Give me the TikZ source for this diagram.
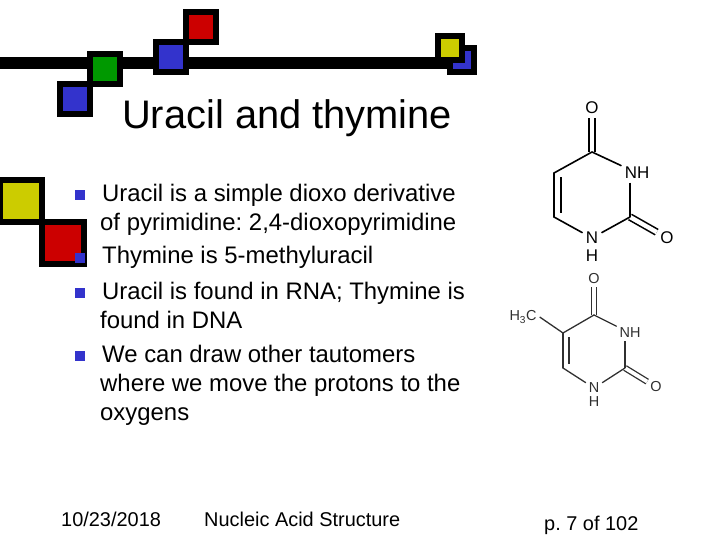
\documentclass[tikz,border=0pt]{standalone}
\usepackage{fontspec}
\setmainfont{Liberation Sans}
\usepackage{tikz}
\usetikzlibrary{positioning}
\definecolor{sqred}{HTML}{CC0000}
\definecolor{sqgreen}{HTML}{009900}
\definecolor{sqblue}{HTML}{3333CC}
\definecolor{sqyellow}{HTML}{CCCC00}
\definecolor{thygray}{HTML}{303030}
\tikzset{
	square/.style={shape=rectangle,draw=black,line width=6bp,minimum size=30bp,inner sep=0pt},
	small square/.style={square,minimum size=24bp},
	large square/.style={square,minimum size=42bp},
	bullet/.style={shape=rectangle,fill=sqblue,minimum size=10bp,inner sep=0pt},
	body/.style={anchor=north west,inner sep=0pt,align=left,font=\fontsize{24}{29.3}\selectfont},
	footer/.style={anchor=base west,inner sep=0pt,font=\fontsize{20}{24}\selectfont},
	atom/.style={inner sep=3.5bp,font=\fontsize{17}{19}\selectfont},
	thyatom/.style={inner sep=3bp,text=thygray,font=\fontsize{14.5}{16}\selectfont},
	bond/.style={line width=1.6bp},
	thybond/.style={line width=1.3bp,draw=thygray},
	double bond/.style={bond,double,double distance=4.4bp},
	thydouble bond/.style={thybond,double,double distance=3.8bp}
}

\begin{document}
\frenchspacing
\begin{tikzpicture}[x=1bp,y=-1bp]
	\useasboundingbox (0,0) rectangle (720,540);

	% top bar and squares
	\coordinate (barstart) at (0,63);
	\coordinate (barend) at (450,63);
	\draw [line width=12bp] (barstart) -- (barend);
	\node[square,fill=sqblue] (blue1) at (75,99) {};
	\node[square,fill=sqgreen] (green1) at (105,69) {};
	\node[square,fill=sqblue] (blue2) at (171,57) {};
	\node[square,fill=sqred] (red1) at (201,27) {};
	\node[small square,fill=sqblue] (blue3) at (462,60) {};
	\node[small square,fill=sqyellow] (yellow1) at (450,48) {};

	% left squares
	\node[large square,fill=sqyellow] (yellow2) at (21,201) {};
	\node[large square,fill=sqred] (red2) at (63,243) {};

	% title
	\node[anchor=base west,inner sep=0pt,font=\fontsize{40}{44}\selectfont] (title) at (122,129) {Uracil and thymine};

	% bullets
	\node[bullet] (b1) at (80,195) {};
	\node[bullet] (b2) at (80,258) {};
	\node[bullet] (b3) at (80,293) {};
	\node[bullet] (b4) at (80,356) {};
	\node[body] (t1) at (100,184) {\hspace*{2bp}Uracil is a simple dioxo derivative\\of pyrimidine: 2,4-dioxopyrimidine};
	\node[body] (t2) at (100,246) {\hspace*{2bp}Thymine is 5-methyluracil};
	\node[body] (t3) at (100,282) {\hspace*{2bp}Uracil is found in RNA; Thymine is\\found in DNA};
	\node[body] (t4) at (100,345) {\hspace*{2bp}We can draw other tautomers\\where we move the protons to the\\oxygens};

	% footer
	\node[footer] (date) at (61,526) {10/23/2018};
	\node[footer] (name) at (204,526) {Nucleic Acid Structure};
	\node[footer] (page) at (544,530) {p. 7 of 102};

	% uracil
	\node[atom] (uo4) at (592,108) {O};
	\coordinate (uc4) at (592,152);
	\node[atom] (un3) at (637,173) {NH};
	\coordinate (uc2) at (630,217);
	\node[atom] (uo2) at (667,238) {O};
	\node[atom] (un1) at (592,238) {N};
	\node[atom] (uh1) at (592,256) {H};
	\coordinate (uc6) at (554,217);
	\coordinate (uc5) at (554,173);
	\coordinate (uc6i) at (561,213);
	\coordinate (uc5i) at (561,177);

	\draw [double bond] (uc4) -- (uo4);
	\draw [double bond] (uc2) -- (uo2);
	\path [bond,line cap=round] (uc4) edge (un3);
	\path [bond] (un3.south -| uc2) edge (uc2);
	\path [bond,line cap=round] (uc2) edge (un1);
	\path [bond,line cap=round] (un1) edge (uc6);
	\path [bond,line cap=round] (uc6) edge (uc5);
	\path [bond,line cap=round] (uc5) edge (uc4);
	\path [bond] (uc6i) edge (uc5i);

	% thymine
	\node[thyatom] (to4) at (594,279) {O};
	\coordinate (tc4) at (594,315);
	\node[thyatom] (tn3) at (630,333) {NH};
	\coordinate (tc2) at (625,368);
	\node[thyatom] (to2) at (656,387) {O};
	\node[thyatom] (tn1) at (594,388) {N};
	\node[thyatom] (th1) at (594,402) {H};
	\coordinate (tc6) at (563,368);
	\coordinate (tc5) at (563,333);
	\node[thyatom] (tme) at (523,317) {H\textsubscript{3}C};
	\coordinate (tc6i) at (569,364);
	\coordinate (tc5i) at (569,337);

	\draw [thydouble bond] (tc4) -- (to4);
	\draw [thydouble bond] (tc2) -- (to2);
	\path [thybond,line cap=round] (tc4) edge (tn3);
	\path [thybond] (tn3.south -| tc2) edge (tc2);
	\path [thybond,line cap=round] (tc2) edge (tn1);
	\path [thybond,line cap=round] (tn1) edge (tc6);
	\path [thybond,line cap=round] (tc6) edge (tc5);
	\path [thybond,line cap=round] (tc5) edge (tc4);
	\path [thybond] (tc6i) edge (tc5i);
	\path [thybond] (tme.east) edge (tc5);
\end{tikzpicture}
\end{document}
